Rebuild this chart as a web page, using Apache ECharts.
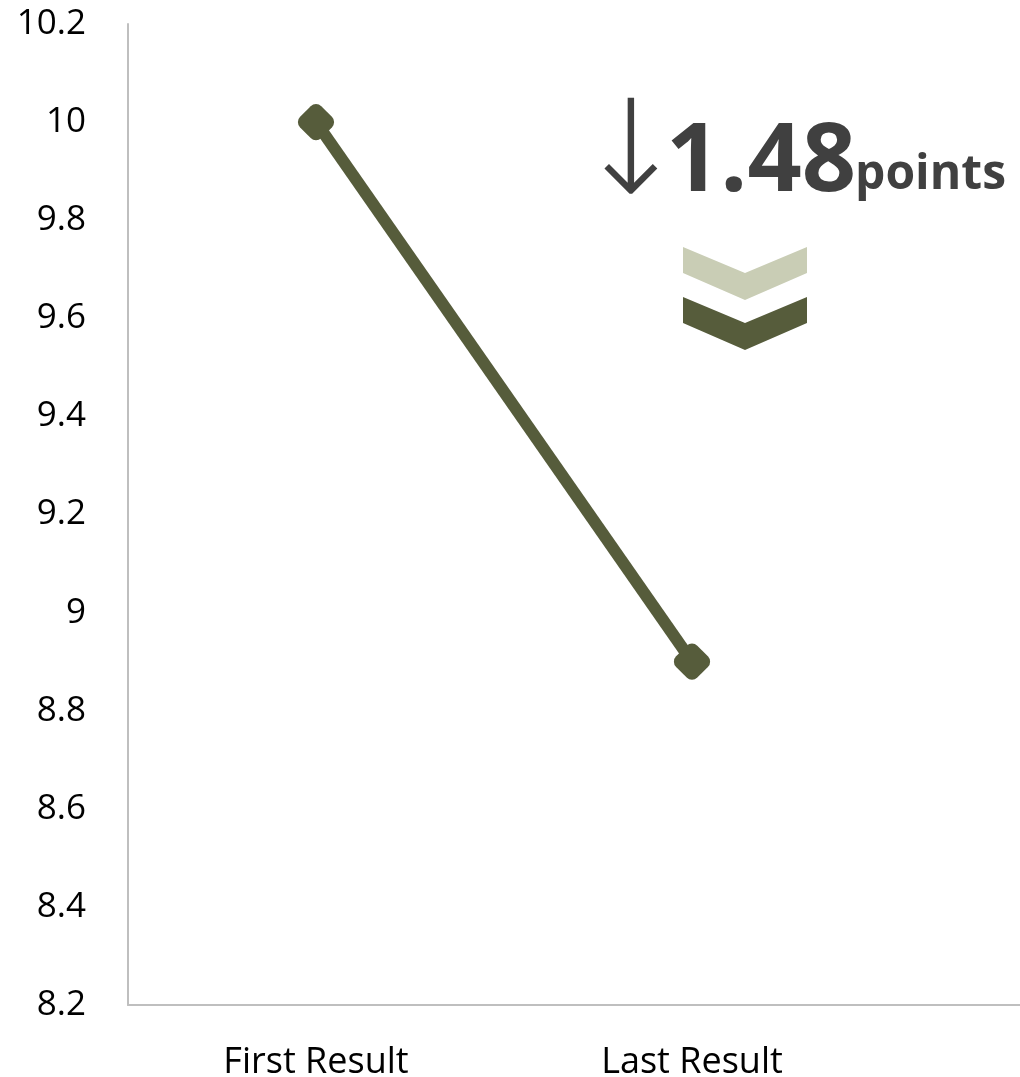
<!DOCTYPE html>
<html>
<head>
<meta charset="utf-8">
<script src="https://cdn.jsdelivr.net/npm/echarts@6/dist/echarts.min.js"></script>
<style>
  html, body { margin: 0; padding: 0; background: #ffffff; }
  #resultChart { width: 1020px; height: 1077px; }
</style>
</head>
<body>
<div id="resultChart"></div>
<script>
// chart data
var categories = ['First Result', 'Last Result'];
var resultValues = [10, 8.9];
var yMin = 8.2, yMax = 10.2, yStep = 0.2;
var changeText = '1.48';
var changeUnit = 'points';

var dark = '#565c3b';
var light = '#c9cdb5';

var myChart = echarts.init(document.getElementById('resultChart'));
myChart.setOption({
    animation: false,
    grid: [
        { left: 128, top: 24, width: 752, bottom: 72, outerBoundsMode: 'none' },
        // second grid only carries the long bottom axis line
        { left: 128, top: 24, right: 0, bottom: 72, outerBoundsMode: 'none' }
    ],
    xAxis: [{
        type: 'category',
        data: categories,
        boundaryGap: true,
        axisLine: { show: false },
        axisTick: { show: false },
        axisLabel: {
            margin: 40,
            fontFamily: 'Open Sans',
            fontSize: 36,
            color: '#000000'
        }
    }, {
        type: 'value',
        gridIndex: 1,
        min: 0,
        max: 1,
        axisLine: { show: true, lineStyle: { color: '#bfbfbf', width: 2 } },
        axisTick: { show: false },
        axisLabel: { show: false },
        splitLine: { show: false }
    }],
    yAxis: [{
        type: 'value',
        min: yMin,
        max: yMax,
        interval: yStep,
        axisLine: { show: true, lineStyle: { color: '#bfbfbf', width: 2 } },
        axisTick: { show: false },
        splitLine: { show: false },
        axisLabel: {
            margin: 42,
            fontFamily: 'Open Sans',
            fontSize: 35,
            color: '#000000'
        }
    }, {
        type: 'value',
        gridIndex: 1,
        show: false
    }],
    series: [{
        type: 'line',
        data: resultValues,
        lineStyle: { color: dark, width: 12 },
        itemStyle: { color: dark },
        symbol: 'roundRect',
        symbolSize: 30,
        symbolRotate: 45
    }],
    graphic: [
        {
            type: 'text', left: 576, top: 93,
            style: { text: '\u2193', font: '300 131px "DejaVu Sans"', fill: '#404040' }
        },
        {
            type: 'text', left: 666, top: 116,
            style: { text: changeText, font: 'bold 95px "Open Sans"', fill: '#404040' }
        },
        {
            type: 'text', left: 855, top: 151,
            style: { text: changeUnit, font: 'bold 48px "Open Sans"', fill: '#404040' }
        },
        {
            type: 'polygon',
            shape: { points: [[683, 247], [745, 273], [807, 247], [807, 273], [745, 300], [683, 273]] },
            style: { fill: light }
        },
        {
            type: 'polygon',
            shape: { points: [[683, 297], [745, 323], [807, 297], [807, 323], [745, 350], [683, 323]] },
            style: { fill: dark }
        }
    ]
});
window.addEventListener('resize', function () {
    myChart.resize();
});
</script>
</body>
</html>
